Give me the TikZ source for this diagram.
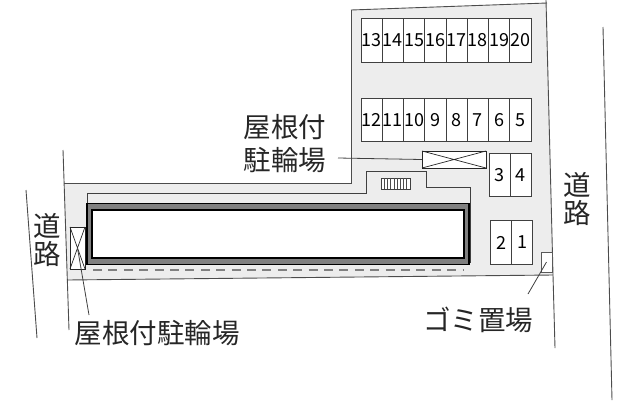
\documentclass[tikz,border=0pt]{standalone}
\usepackage{fontspec}
\setmainfont{Noto Sans CJK JP}
\usetikzlibrary{positioning}

\begin{document}
\begin{tikzpicture}[x=1pt,y=-1pt,semithick,node distance=21.25pt,
                    lot/.style={draw=black!70,line width=0.9pt},
                    thin line/.style={draw=black!75,line width=0.8pt},
                    lead/.style={draw=black!75,line width=0.8pt},
                    spot/.style={draw=black!75,fill=white,line width=0.8pt,minimum width=21.25pt,minimum height=43.5pt,inner sep=0pt,outer sep=0pt,font=\fontsize{18}{18}\selectfont},
                    crossbox/.style={draw=black!85,fill=white,line width=0.7pt,inner sep=0pt,outer sep=0pt},
                    label/.style={inner sep=0pt,align=center,font=\fontsize{27.5}{28}\selectfont,text=black!85}]

	\useasboundingbox (0,0) rectangle (640,400);

	% site
	\fill[black!7] (351,10) -- (547,3) -- (553,275) -- (67,280) -- (64,183) -- (351,183) -- cycle;
	\path[lot] (351,10) -- (547,3);
	\path[lot] (351,10) -- (351,183) -- (64,183);
	\path[lot] (546,0) -- (553,275) -- (555,348);
	\path[lot] (67,280) -- (553,275);
	\path[lot] (63,150) -- (69,330);

	% roads
	\path[lot] (26,190) -- (37,338);
	\path[lot] (603,27) -- (612,400);

	% parking
	\node[spot] (s13) at (371.6,40.5) {13};
	\node[spot] (s14) [right of=s13] {14};
	\node[spot] (s15) [right of=s14] {15};
	\node[spot] (s16) [right of=s15] {16};
	\node[spot] (s17) [right of=s16] {17};
	\node[spot] (s18) [right of=s17] {18};
	\node[spot] (s19) [right of=s18] {19};
	\node[spot] (s20) [right of=s19] {20};

	\node[spot] (s12) at (371.6,120) {12};
	\node[spot] (s11) [right of=s12] {11};
	\node[spot] (s10) [right of=s11] {10};
	\node[spot] (s9)  [right of=s10] {9};
	\node[spot] (s8)  [right of=s9]  {8};
	\node[spot] (s7)  [right of=s8]  {7};
	\node[spot] (s6)  [right of=s7]  {6};
	\node[spot] (s5)  [right of=s6]  {5};

	\node[spot] (s3) at (499.6,175) {3};
	\node[spot] (s4) [right of=s3]  {4};
	\node[spot] (s2) at (501,242.5) {2};
	\node[spot] (s1) [right of=s2]  {1};

	% building
	\path[thin line] (87,203) -- (87,193) -- (366,193) -- (366,171) -- (426,171) -- (426,187) -- (470,187) -- (470,263);
	\node[draw=black,fill=black!50,line width=1.2pt,minimum width=382pt,minimum height=61pt,inner sep=0pt,outer sep=0pt] (house) at (278,234) {};
	\node[draw=black,fill=white,line width=2pt,minimum width=372pt,minimum height=48pt,inner sep=0pt,outer sep=0pt] (room) at (278,234) {};
	\draw[black!50,line width=1.5pt,dash pattern=on 9pt off 6.4pt] (93,270) -- (463,270);

	% stairs
	\node[draw=black!75,fill=white,line width=0.7pt,minimum width=29pt,minimum height=11pt,inner sep=0pt,outer sep=0pt] (stairs) at (395.5,183.5) {};
	\foreach \i in {1,...,8}
		\draw[black!70,line width=0.6pt] (381+\i*3.2,178) -- (381+\i*3.2,189);

	% bike shelters, refuse
	\node[crossbox,minimum width=64pt,minimum height=17pt] (bikeR) at (454,159.5) {};
	\draw[black!85,line width=0.7pt] (bikeR.north west) -- (bikeR.south east) (bikeR.south west) -- (bikeR.north east);
	\node[crossbox,minimum width=15pt,minimum height=42pt] (bikeL) at (77.5,248) {};
	\draw[black!85,line width=0.7pt] (bikeL.north west) -- (bikeL.south east) (bikeL.south west) -- (bikeL.north east);
	\node[crossbox,draw=black!65,minimum width=11pt,minimum height=20pt] (trash) at (546.5,262) {};

	% labels
	\node[label] (roofA) at (285,127) {屋根付};
	\node[label] (roofB) at (285,160) {駐輪場};
	\node[label] (roofC) at (157,333) {屋根付駐輪場};
	\node[label] (dust)  at (478,320) {ゴミ置場};
	\node[label] (roadL) at (47,240)  {道\\路};
	\node[label] (roadR) at (577,199) {道\\路};

	\coordinate (c1) at (338,158);
	\coordinate (c2) at (89,315);
	\coordinate (c3) at (528,294);

	\path[lead] (c1) edge (bikeR.west);
	\path[lead] (bikeL.center) edge (c2);
	\path[lead] (trash.center) edge (c3);

\end{tikzpicture}
\end{document}
